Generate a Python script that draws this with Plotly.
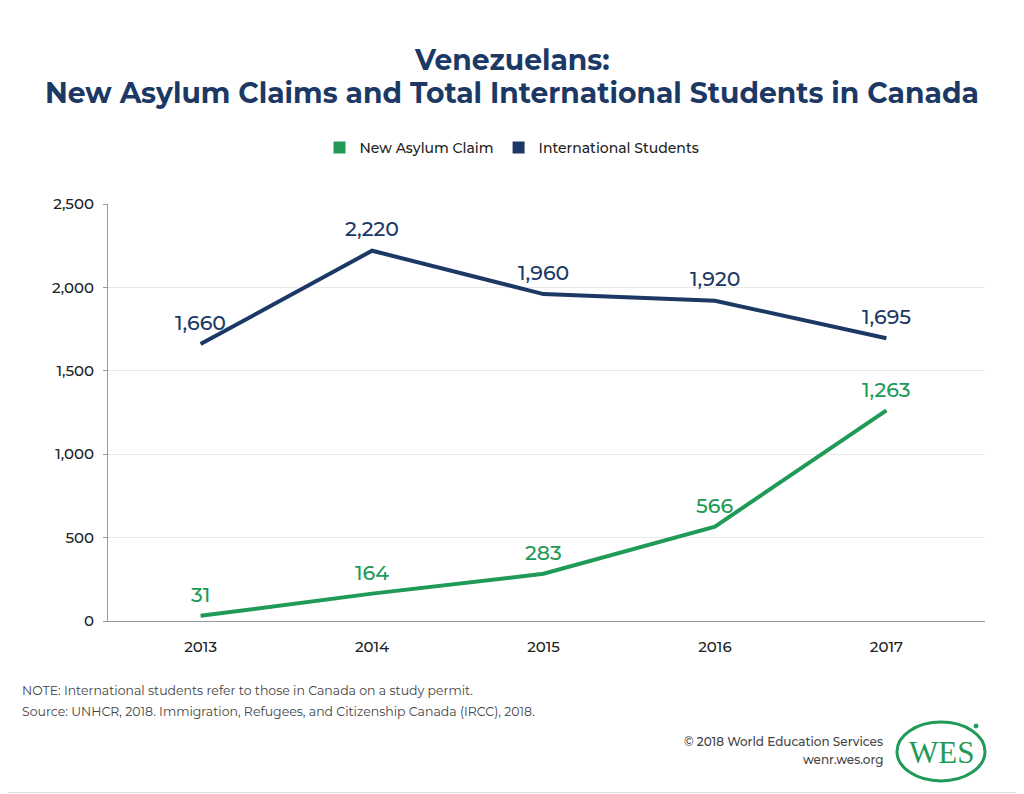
import plotly.graph_objects as go

years = ["2013", "2014", "2015", "2016", "2017"]
asylum = [31, 164, 283, 566, 1263]
students = [1660, 2220, 1960, 1920, 1695]
y_ticks = [0, 500, 1000, 1500, 2000, 2500]
y_tick_labels = ["0", "500", "1,000", "1,500", "2,000", "2,500"]

GREEN = "#1f9a57"
NAVY = "#1c3966"
FONT = "Montserrat, Lato, 'Open Sans', sans-serif"

OFF = 8  # page body margin offset
W, H = 1024 - OFF, 794 - OFF
L, R, T, B = 108, 985, 204, 621  # page pixel coordinates of the plot area


def px(x):
    return (x - L) / (R - L)


def py(y):
    return (B - y) / (B - T)


fig = go.Figure()
fig.add_trace(go.Scatter(x=years, y=students, mode="lines", line=dict(color=NAVY, width=4),
                         showlegend=False, hoverinfo="skip"))
fig.add_trace(go.Scatter(x=years, y=asylum, mode="lines", line=dict(color=GREEN, width=4),
                         showlegend=False, hoverinfo="skip"))
# legend entries (square swatches)
fig.add_trace(go.Scatter(x=[None], y=[None], mode="markers", name="New Asylum Claim",
                         marker=dict(symbol="square", size=14, color=GREEN)))
fig.add_trace(go.Scatter(x=[None], y=[None], mode="markers", name="International Students",
                         marker=dict(symbol="square", size=14, color=NAVY)))

annotations = []
for i, v in enumerate(students):
    annotations.append(dict(x=i, y=v, xref="x", yref="y", text=f"{v:,}", showarrow=False,
                            yshift=22, font=dict(size=20.5, color=NAVY, family=FONT, weight=500)))
for i, v in enumerate(asylum):
    annotations.append(dict(x=i, y=v, xref="x", yref="y", text=f"{v:,}", showarrow=False,
                            yshift=21, font=dict(size=20.5, color=GREEN, family=FONT, weight=500)))

annotations += [
    dict(x=px(512), y=py(60), xref="paper", yref="paper", xanchor="center", yanchor="middle",
         text="<b>Venezuelans:</b>", showarrow=False,
         font=dict(size=28.2, color=NAVY, family=FONT)),
    dict(x=px(512), y=py(93), xref="paper", yref="paper", xanchor="center", yanchor="middle",
         text="<b>New Asylum Claims and Total International Students in Canada</b>", showarrow=False,
         font=dict(size=28.2, color=NAVY, family=FONT)),
    dict(x=px(20), y=py(690), xref="paper", yref="paper", xanchor="left", yanchor="middle",
         text="NOTE: International students refer to those in Canada on a study permit.",
         showarrow=False, font=dict(size=12.5, color="#444444", family=FONT)),
    dict(x=px(20), y=py(711), xref="paper", yref="paper", xanchor="left", yanchor="middle",
         text="Source: UNHCR, 2018. Immigration, Refugees, and Citizenship Canada (IRCC), 2018.",
         showarrow=False, font=dict(size=12.5, color="#444444", family=FONT)),
    dict(x=px(885), y=py(741), xref="paper", yref="paper", xanchor="right", yanchor="middle",
         text="© 2018 World Education Services", showarrow=False,
         font=dict(size=12, color="#444444", family=FONT, weight=500)),
    dict(x=px(885), y=py(759), xref="paper", yref="paper", xanchor="right", yanchor="middle",
         text="wenr.wes.org", showarrow=False,
         font=dict(size=12, color="#444444", family=FONT, weight=500)),
    dict(x=px(941), y=py(752), xref="paper", yref="paper", xanchor="center", yanchor="middle",
         text="WES", showarrow=False,
         font=dict(size=31, color=GREEN, family="Liberation Serif, serif")),
]

shapes = [
    # right and bottom edges of the light frame
    dict(type="line", xref="paper", yref="paper", x0=px(1022.5), x1=px(1022.5), y0=py(792.5), y1=py(OFF),
         line=dict(color="#dddddd", width=1)),
    dict(type="line", xref="paper", yref="paper", x0=px(OFF), x1=px(1022.5), y0=py(792.5), y1=py(792.5),
         line=dict(color="#dddddd", width=1)),
    dict(type="circle", xref="paper", yref="paper", x0=px(897), x1=px(985), y0=py(781), y1=py(722),
         line=dict(color=GREEN, width=3), fillcolor="rgba(0,0,0,0)"),
    dict(type="circle", xref="paper", yref="paper", x0=px(974), x1=px(978), y0=py(728), y1=py(724),
         line=dict(color=GREEN, width=1), fillcolor=GREEN),
]

fig.update_layout(
    width=W, height=H,
    margin=dict(l=L - OFF, r=W - (R - OFF), t=T - OFF, b=H - (B - OFF), pad=0),
    paper_bgcolor="white", plot_bgcolor="white",
    font=dict(family=FONT, color="#222222"),
    showlegend=True,
    legend=dict(orientation="h", xref="container", yref="container", x=(512 - OFF) / W, xanchor="center",
                y=1 - (148 - OFF) / H, yanchor="middle",
                font=dict(size=14, color="#222222", family=FONT, weight=500),
                itemsizing="constant", traceorder="normal", itemwidth=30),
    annotations=annotations,
    shapes=shapes,
)
fig.update_xaxes(type="category", range=[-0.54, 4.575], showgrid=False, showline=True,
                 linecolor="#999999", linewidth=1, ticks="", zeroline=False,
                 tickfont=dict(size=15, color="#222222", family=FONT, weight=500), ticklabelstandoff=12)
fig.update_yaxes(range=[0, 2500], tickvals=y_ticks, ticktext=y_tick_labels, showgrid=True,
                 gridcolor="#e8e8e8", gridwidth=1, showline=True, linecolor="#999999", linewidth=1,
                 ticks="outside", ticklen=4, tickcolor="#999999", zeroline=False,
                 tickfont=dict(size=15, color="#222222", family=FONT, weight=500), ticklabelstandoff=6)

fig.write_html("out.html")
